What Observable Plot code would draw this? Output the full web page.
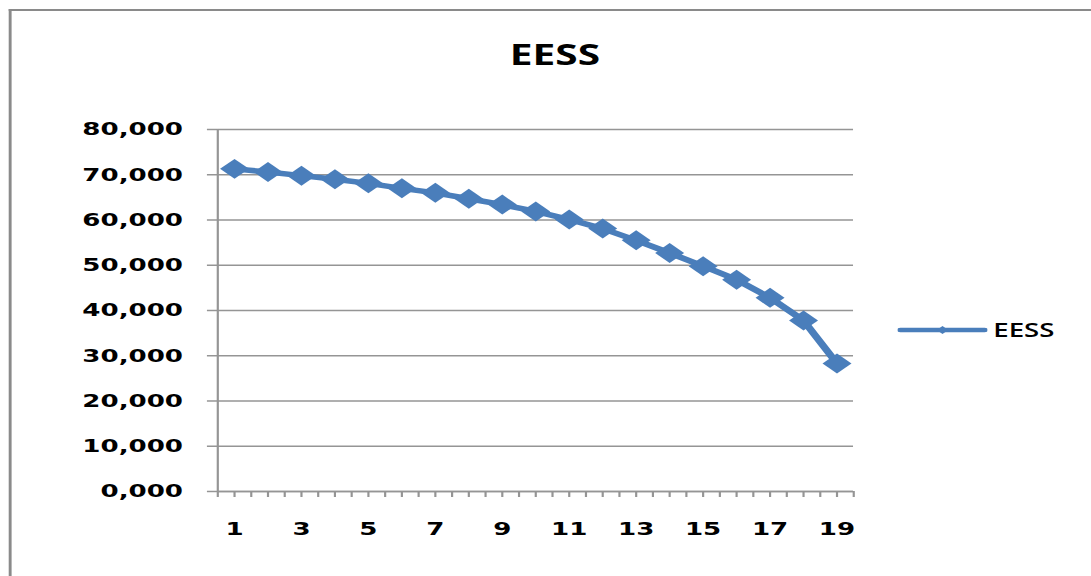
<!DOCTYPE html>
<html>
<head>
<meta charset="utf-8">
<script src="https://cdn.jsdelivr.net/npm/d3@7"></script>
<script src="https://cdn.jsdelivr.net/npm/@observablehq/plot@0.6"></script>
<style>
  html, body { margin: 0; padding: 0; background: #fff; overflow: hidden; }
  /* the chart is laid out narrow and widened horizontally as a whole */
  #sheet {
    position: relative;
    width: 752.4px;
    height: 576px;
    transform: scaleX(1.45);
    transform-origin: 0 0;
  }
  #frame {
    position: absolute; left: 6px; top: 9px; right: -40px; bottom: -40px;
    border-left: 2px solid #8a8a8a; border-top: 2px solid #8a8a8a;
  }
  #title {
    position: relative;
    height: 100px; box-sizing: border-box; padding-top: 8px; padding-left: 13px;
    line-height: 92px; text-align: center;
    font-family: "Open Sans", sans-serif; font-weight: 700; font-size: 28px; color: #000;
  }
  #chart { position: relative; }
  #chart svg { display: block; overflow: visible; }
  #legend {
    position: absolute; left: 619px; top: 318px; height: 24px;
    display: flex; align-items: center;
    font-family: "Open Sans", sans-serif; font-weight: 600; font-size: 19px; color: #000;
  }
  #legend svg { display: block; margin-right: 4px; }
</style>
</head>
<body>
<div id="sheet">
  <div id="frame"></div>
  <div id="title">EESS</div>
  <div id="chart"></div>
  <div id="legend"></div>
</div>
<script>
// series
const seriesName = "EESS";
const periods = [1, 2, 3, 4, 5, 6, 7, 8, 9, 10, 11, 12, 13, 14, 15, 16, 17, 18, 19];
const values = [71.3, 70.6, 69.8, 69.0, 68.1, 67.0, 66.0, 64.7, 63.4, 61.9, 60.1, 58.1, 55.5, 52.7, 49.8, 46.8, 42.8, 37.8, 28.3];

// axes
const yTicks = [0, 10, 20, 30, 40, 50, 60, 70, 80];
const xLabels = [1, 3, 5, 7, 9, 11, 13, 15, 17, 19];

const lineColor = "#4a7ebb";
const gridColor = "#959595";

const data = periods.map((p, i) => ({period: p, value: values[i]}));

// tick marks at every category boundary and centre
const xTicks = d3.range(0.5, periods.length + 0.51, 0.5);
const fmtY = v => v.toFixed(3).replace(".", ",");
const fmtX = v => xLabels.includes(v) ? String(v) : "";

const chart = Plot.plot({
  width: 752.4,
  height: 476,
  marginLeft: 149.7,
  marginRight: 164.1,
  marginTop: 29,
  marginBottom: 85,
  style: {fontFamily: "DejaVu Sans", fontWeight: "bold", fontSize: "18px", color: "#000", background: "transparent"},
  x: {type: "linear", domain: [0.5, periods.length + 0.5], label: null},
  y: {domain: [0, 80], label: null},
  marks: [
    Plot.gridY(yTicks, {stroke: gridColor, strokeOpacity: 1, strokeWidth: 1.5}),
    Plot.axisY(yTicks, {tickSize: 7, tickPadding: 17, tickFormat: fmtY, stroke: gridColor, strokeWidth: 1.5, label: null}),
    Plot.axisX(xTicks, {tickSize: 6, tickPadding: 25, tickFormat: fmtX, stroke: gridColor, strokeWidth: 1.5, label: null}),
    Plot.ruleY([0], {stroke: gridColor, strokeWidth: 1.5}),
    Plot.ruleX([0.5], {stroke: gridColor, strokeWidth: 1.5}),
    Plot.line(data, {x: "period", y: "value", stroke: lineColor, strokeWidth: 5.5, strokeLinejoin: "round"}),
    Plot.dot(data, {x: "period", y: "value", symbol: "diamond2", r: 9, fill: lineColor, stroke: "none"})
  ]
});
document.getElementById("chart").appendChild(chart);

// legend entry: line with a small diamond, then the series name
const ns = "http://www.w3.org/2000/svg";
const sw = d3.create("svg").attr("width", 62).attr("height", 14);
sw.append("line").attr("x1", 2).attr("x2", 60).attr("y1", 7).attr("y2", 7)
  .attr("stroke", lineColor).attr("stroke-width", 4.5).attr("stroke-linecap", "round");
sw.append("path").attr("d", d3.symbol(d3.symbolDiamond2, 40)()).attr("transform", "translate(31,7)")
  .attr("fill", lineColor);
const legend = document.getElementById("legend");
legend.appendChild(sw.node());
const lab = document.createElement("span");
lab.textContent = seriesName;
legend.appendChild(lab);
</script>
</body>
</html>
